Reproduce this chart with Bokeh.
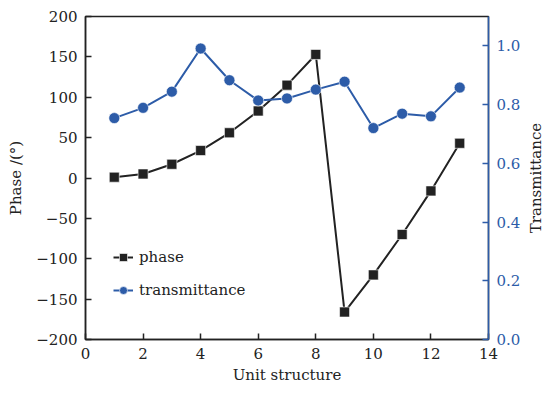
import math
from bokeh.plotting import figure
from bokeh.layouts import row
from bokeh.models import Range1d, LinearAxis, FixedTicker, Legend, LegendItem, ColumnDataSource
from bokeh.core.properties import value
from bokeh.embed import file_html
from bokeh.resources import INLINE

unit = [1, 2, 3, 4, 5, 6, 7, 8, 9, 10, 11, 12, 13]
phase = [1, 5, 17, 34, 56, 83, 115, 153, -166, -120, -70, -16, 43]
transmittance = [0.754, 0.789, 0.844, 0.991, 0.883, 0.814, 0.821, 0.851, 0.878, 0.720, 0.769, 0.760, 0.858]

x_ticks = [0, 2, 4, 6, 8, 10, 12, 14]
phase_ticks = [-200, -150, -100, -50, 0, 50, 100, 150, 200]
trans_ticks = [0.0, 0.2, 0.4, 0.6, 0.8, 1.0]
right_label = ["Transmittance"]

FONT = "DejaVu Serif"
BLACK = "#222222"
BLUE = "#2d5ca8"

p = figure(width=525, height=395, output_backend="svg", toolbar_location=None,
           x_range=Range1d(0, 14), y_range=Range1d(-200, 200),
           min_border_left=85, min_border_right=37, min_border_top=16, min_border_bottom=56)
p.extra_y_ranges = {"t": Range1d(0, 1.1)}
p.grid.visible = False
p.outline_line_color = BLACK
p.outline_line_width = 1.5
p.background_fill_color = "white"
p.border_fill_color = "white"

def style(ax, color, labelcolor):
    ax.axis_line_color = color
    ax.axis_line_width = 1.5
    ax.major_tick_line_color = color
    ax.major_tick_line_width = 1.5
    ax.major_tick_in = 6
    ax.major_tick_out = 0
    ax.minor_tick_line_color = None
    ax.major_label_text_font = FONT
    ax.major_label_text_font_size = "15px"
    ax.major_label_text_color = labelcolor
    ax.major_label_standoff = 8
    ax.axis_label_text_font = FONT
    ax.axis_label_text_font_size = "15px"
    ax.axis_label_text_font_style = "normal"
    ax.axis_label_text_color = BLACK

style(p.xaxis[0], BLACK, BLACK)
p.xaxis[0].ticker = FixedTicker(ticks=x_ticks)
p.xaxis[0].axis_label = "Unit structure"
p.xaxis[0].axis_label_standoff = 4

style(p.yaxis[0], BLACK, BLACK)
p.yaxis[0].ticker = FixedTicker(ticks=phase_ticks)
p.yaxis[0].major_label_overrides = {t: ("\u2212" + str(abs(t)) if t < 0 else str(t)) for t in phase_ticks}
p.yaxis[0].axis_label = "Phase /(°)"
p.yaxis[0].axis_label_standoff = 8

rax = LinearAxis(y_range_name="t")
style(rax, BLUE, BLUE)
rax.ticker = FixedTicker(ticks=trans_ticks)
rax.major_label_overrides = {t: "%.1f" % t for t in trans_ticks}
p.add_layout(rax, "right")

src = ColumnDataSource(dict(x=unit, ph=phase, tr=transmittance))
l1 = p.line("x", "ph", source=src, line_color=BLACK, line_width=2)
s1 = p.scatter("x", "ph", source=src, marker="square", size=10, fill_color=BLACK,
               line_color="white", line_width=0.6)
l2 = p.line("x", "tr", source=src, y_range_name="t", line_color=BLUE, line_width=2)
s2 = p.scatter("x", "tr", source=src, y_range_name="t", marker="circle", size=11,
               fill_color=BLUE, line_color="white", line_width=0.6)

legend = Legend(items=[LegendItem(label="phase", renderers=[l1, s1]),
                       LegendItem(label="transmittance", renderers=[l2, s2])],
                location=(28, 39), orientation="vertical")
legend.border_line_color = None
legend.background_fill_alpha = 0
legend.label_text_font = FONT
legend.label_text_font_size = "15px"
legend.label_text_color = BLACK
legend.glyph_width = 20
legend.glyph_height = 20
legend.label_height = 20
legend.spacing = 13
legend.padding = 0
legend.margin = 0
legend.label_standoff = 6
p.add_layout(legend, "center")

# narrow side figure holding the right-hand axis title (reads bottom-to-top)
p2 = figure(width=20, height=395, output_backend="svg", toolbar_location=None,
            x_range=Range1d(0, 1), y_range=Range1d(-200, 200),
            min_border_left=0, min_border_right=0, min_border_top=16, min_border_bottom=56)
p2.axis.visible = False
p2.grid.visible = False
p2.outline_line_color = None
p2.background_fill_color = "white"
p2.border_fill_color = "white"
p2.text(x=[0.5], y=[0], text=right_label, angle=math.pi / 2,
        text_align="center", text_baseline="middle",
        text_font=value(FONT), text_font_size="15px", text_color=BLACK)

layout = row(p, p2, spacing=0)
open("out.html", "w").write(file_html(layout, INLINE))
